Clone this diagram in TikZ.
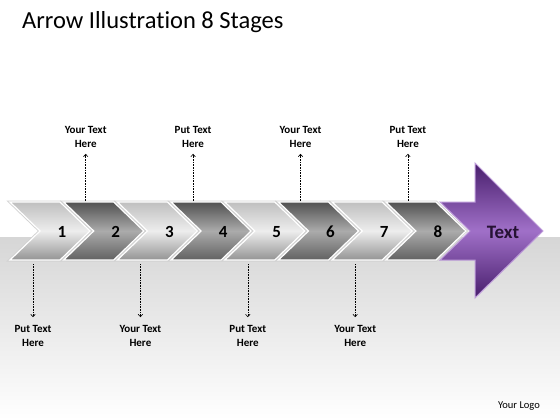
\documentclass[tikz,border=0pt]{standalone}
\usepackage{fontspec}
\setmainfont{Carlito}[Ligatures=NoCommon]
\usetikzlibrary{arrows.meta}
\definecolor{bandgray}{RGB}{214,214,214}
\definecolor{purpledark}{RGB}{72,30,108}
\definecolor{purplelight}{RGB}{160,112,200}
\definecolor{textpurple}{RGB}{38,18,52}
\tikzset{
  chevlight/.style={top color=black!25,bottom color=black!42,middle color=black!7,draw=white,line width=1.2pt,line join=miter},
  chevdark/.style={top color=black!68,bottom color=black!62,middle color=black!33,draw=white,line width=1.2pt,line join=miter},
  glow/.style={draw=gray!35,line width=3pt,line join=miter},
  numlbl/.style={font=\fontsize{17}{17}\selectfont\bfseries,inner sep=0pt},
  note/.style={font=\fontsize{11}{14}\selectfont\bfseries,align=center,inner sep=1pt},
  tip/.style={densely dotted,line width=0.6pt,-{Straight Barb[length=2.5pt,width=4.5pt]}}
}
\begin{document}
\begin{tikzpicture}[x=1pt,y=-1pt]
  \useasboundingbox (0,0) rectangle (560,420);
  \fill[white] (0,0) rectangle (560,420);
  \shade[top color=bandgray,bottom color=white] (0,237) rectangle (560,420);
  % title and logo
  \node[anchor=base west,inner sep=0pt,font=\fontsize{24.5}{28}\selectfont] (title) at (22,29) {Arrow Illustration 8 Stages};
  \node[anchor=base,inner sep=0pt,font=\fontsize{10.5}{12}\selectfont] (logo) at (519,408) {Your Logo};
  % chevrons
  \foreach \i/\sty in {1/chevlight,2/chevdark,3/chevlight,4/chevdark,5/chevlight,6/chevdark,7/chevlight,8/chevdark}{
    \pgfmathsetmacro\x{10+53.7*(\i-1)}
    \draw[glow] (\x,202) -- ++(50,0) -- ++(30,29) -- ++(-30,29) -- ++(-50,0) -- ++(30,-29) -- cycle;
    \draw[\sty] (\x,202) -- ++(50,0) -- ++(30,29) -- ++(-30,29) -- ++(-50,0) -- ++(30,-29) -- cycle;
    \node[numlbl] (n\i) at (\x+52,232) {\i};
    \coordinate (t\i) at (\x+22,201);
    \coordinate (b\i) at (\x+23,264);
  }
  % big arrow
  \draw[draw=purplelight!70!white,line width=1pt,top color=purpledark,bottom color=purpledark,middle color=purplelight,line join=miter]
    (440,202) -- (475,202) -- (475,163) -- (543,231) -- (475,298) -- (475,260) -- (440,260) -- (470,231) -- cycle;
  \node[font=\fontsize{19}{19}\selectfont\bfseries,text=textpurple,inner sep=0pt] (txt) at (503,232) {Text};
  % notes above
  \foreach \i/\w in {2/Your,4/Put,6/Your,8/Put}{
    \node[note] (u\i) at ([yshift=64pt]t\i) {\w{} Text\\Here};
    \draw[tip,shorten >=5pt] (t\i) -- (u\i);
  }
  % notes below
  \foreach \i/\w in {1/Put,3/Your,5/Put,7/Your}{
    \node[note] (d\i) at ([yshift=-72pt]b\i) {\w{} Text\\Here};
    \draw[tip,shorten >=7pt] (b\i) -- (d\i);
  }
\end{tikzpicture}
\end{document}
